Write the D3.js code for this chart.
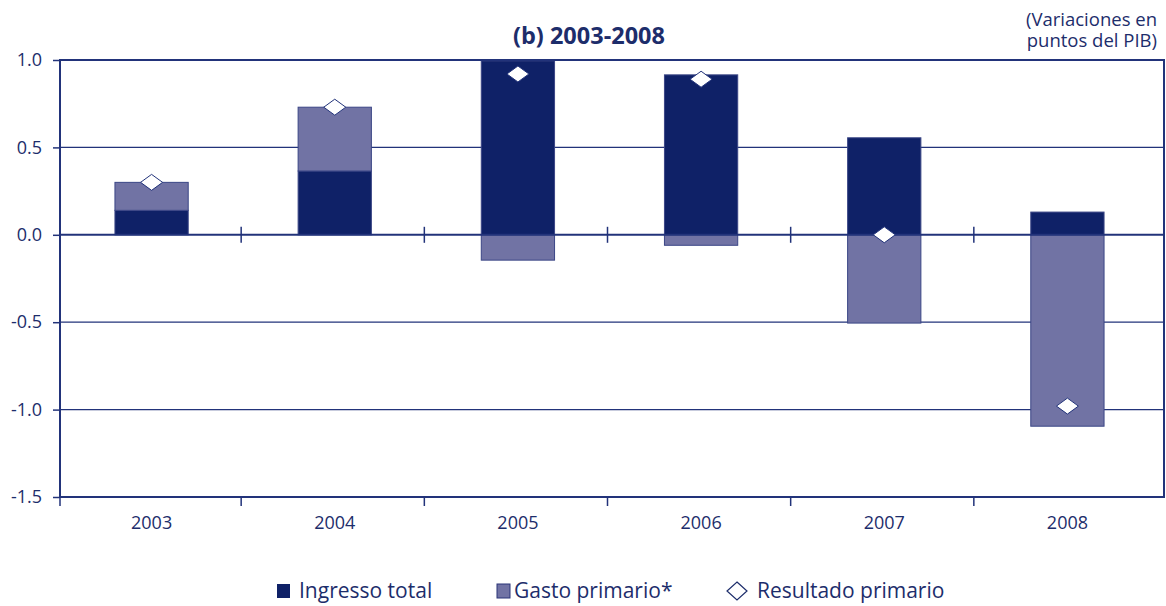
<!DOCTYPE html>
<html>
<head>
<meta charset="utf-8">
<script src="https://cdn.jsdelivr.net/npm/d3@7"></script>
<style>
  body { margin: 0; background: #fff; }
  svg { display: block; font-family: "Open Sans", sans-serif; }
</style>
</head>
<body>
<svg id="chart" width="1166" height="606"></svg>
<script>
// data
const years = ["2003", "2004", "2005", "2006", "2007", "2008"];
const ingreso = [0.14, 0.365, 0.995, 0.915, 0.555, 0.13];
const gasto = [0.16, 0.365, -0.145, -0.06, -0.505, -1.095];
const resultado = [0.30, 0.73, 0.92, 0.89, 0.0, -0.98];
const yTicks = [1.0, 0.5, 0.0, -0.5, -1.0, -1.5];

const navy = "#0f2167";
const lilac = "#7173a4";
const ink = "#1d2d6b";
const lineCol = "#22337a";

const svg = d3.select("#chart");
const plotL = 60, plotR = 1164, plotT = 60, plotB = 497;

const x = d3.scaleBand().domain(years).range([plotL, 1159]).padding(0);
const y = d3.scaleLinear().domain([-1.5, 1.0]).range([plotB, plotT]);
const barW = x.bandwidth() * 0.4;

const rows = years.map((yr, i) => ({ year: yr, ingreso: ingreso[i], gasto: gasto[i] }));
const series = d3.stack()
  .keys(["ingreso", "gasto"])
  .offset(d3.stackOffsetDiverging)(rows);

// gridlines
svg.append("g")
  .selectAll("line")
  .data([0.5, -0.5, -1.0])
  .join("line")
  .attr("x1", plotL).attr("x2", plotR)
  .attr("y1", d => y(d)).attr("y2", d => y(d))
  .attr("stroke", lineCol).attr("stroke-width", 1.2);

// bars
const colors = { ingreso: navy, gasto: lilac };
svg.append("g")
  .selectAll("g")
  .data(series)
  .join("g")
  .attr("fill", d => colors[d.key])
  .selectAll("rect")
  .data(d => d)
  .join("rect")
  .attr("x", d => x(d.data.year) + (x.bandwidth() - barW) / 2)
  .attr("width", barW)
  .attr("y", d => y(Math.max(d[0], d[1])))
  .attr("height", d => Math.abs(y(d[0]) - y(d[1])))
  .attr("stroke", "#3b4686")
  .attr("stroke-width", 1);

// zero line with category ticks
svg.append("line")
  .attr("x1", plotL).attr("x2", plotR)
  .attr("y1", y(0)).attr("y2", y(0))
  .attr("stroke", lineCol).attr("stroke-width", 2);

svg.append("g")
  .selectAll("line")
  .data(years.slice(1))
  .join("line")
  .attr("x1", d => x(d) - 2).attr("x2", d => x(d) - 2)
  .attr("y1", y(0) - 8).attr("y2", y(0) + 8)
  .attr("stroke", lineCol).attr("stroke-width", 1.5);

// frame
svg.append("rect")
  .attr("x", plotL).attr("y", plotT)
  .attr("width", plotR - plotL).attr("height", plotB - plotT)
  .attr("fill", "none")
  .attr("stroke", lineCol).attr("stroke-width", 2);

// y axis
const yAxis = svg.append("g")
  .attr("transform", `translate(${plotL},0)`)
  .call(d3.axisLeft(y).tickValues(yTicks).tickFormat(d => d.toFixed(1)).tickSize(7).tickPadding(11));
yAxis.select(".domain").remove();
yAxis.selectAll("line").attr("stroke", lineCol).attr("stroke-width", 1.5);
yAxis.selectAll("text")
  .attr("fill", ink)
  .style("font-size", "18px")
  .style("font-family", "Open Sans, sans-serif");

// x axis
const xAxis = svg.append("g")
  .attr("transform", `translate(0,${plotB})`)
  .call(d3.axisBottom(x).tickSize(0).tickPadding(19));
xAxis.select(".domain").remove();
xAxis.selectAll("text")
  .attr("fill", ink)
  .style("font-size", "18px")
  .style("font-family", "Open Sans, sans-serif");
xAxis.append("g")
  .selectAll("line")
  .data(years)
  .join("line")
  .attr("x1", (d, i) => i ? x(d) - 2 : x(d)).attr("x2", (d, i) => i ? x(d) - 2 : x(d))
  .attr("y1", 0).attr("y2", 9)
  .attr("stroke", lineCol).attr("stroke-width", 1.5);

// resultado diamonds
const diamond = "M0,-8L11,0L0,8L-11,0Z";
svg.append("g")
  .selectAll("path")
  .data(resultado)
  .join("path")
  .attr("d", diamond)
  .attr("transform", (d, i) => `translate(${x(years[i]) + x.bandwidth() / 2},${y(d)})`)
  .attr("fill", "#fff")
  .attr("stroke", lineCol)
  .attr("stroke-width", 1);

// title
svg.append("text")
  .attr("x", 589).attr("y", 44)
  .attr("text-anchor", "middle")
  .attr("fill", ink)
  .style("font-size", "23.5px")
  .style("font-weight", "bold")
  .text("(b) 2003-2008");

// unit note
svg.append("text")
  .attr("x", 1157).attr("y", 26)
  .attr("text-anchor", "end")
  .attr("fill", ink)
  .style("font-size", "18.5px")
  .selectAll("tspan")
  .data(["(Variaciones en", "puntos del PIB)"])
  .join("tspan")
  .attr("x", 1157)
  .attr("dy", (d, i) => i ? 21 : 0)
  .text(d => d);

// legend
const legend = svg.append("g").attr("transform", "translate(0,591)");
legend.append("rect").attr("x", 277).attr("y", -7).attr("width", 13).attr("height", 14).attr("fill", navy);
legend.append("text").attr("x", 299).attr("y", 7).attr("fill", ink).style("font-size", "21px").text("Ingresso total");
legend.append("rect").attr("x", 497).attr("y", -7).attr("width", 13).attr("height", 14)
  .attr("fill", lilac).attr("stroke", "#2b3478").attr("stroke-width", 1);
legend.append("text").attr("x", 514).attr("y", 7).attr("fill", ink).style("font-size", "21px").text("Gasto primario*");
legend.append("path").attr("d", "M0,-9L10,0L0,9L-10,0Z").attr("transform", "translate(737,0)")
  .attr("fill", "#fff").attr("stroke", ink).attr("stroke-width", 1.2);
legend.append("text").attr("x", 757).attr("y", 7).attr("fill", ink).style("font-size", "21px").text("Resultado primario");
</script>
</body>
</html>
